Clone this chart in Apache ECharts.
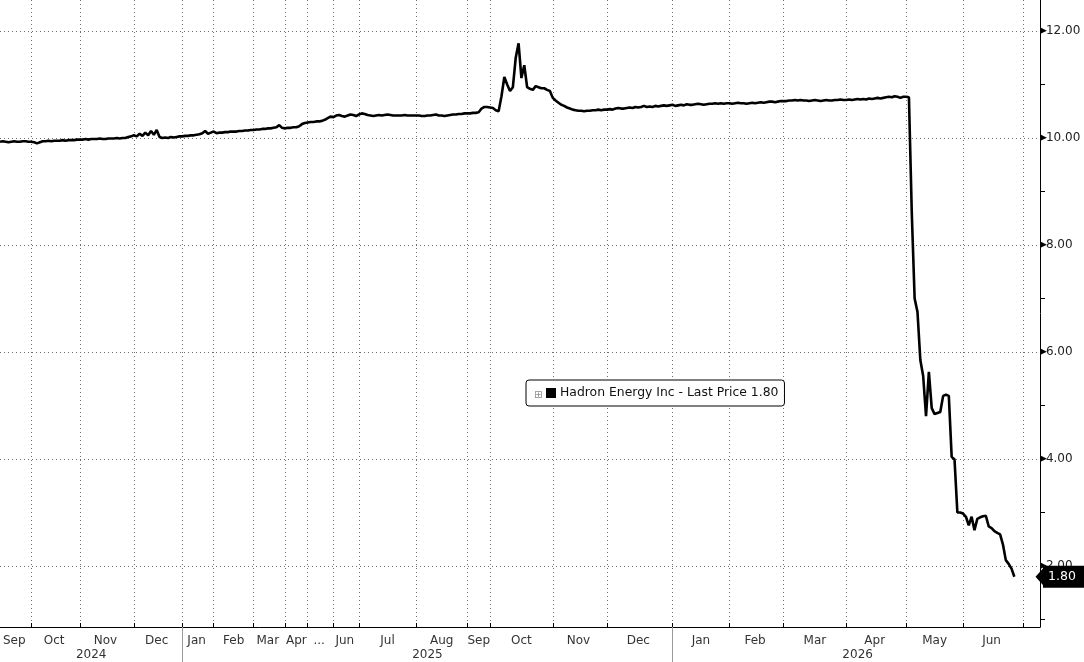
<!DOCTYPE html>
<html>
<head>
<meta charset="utf-8">
<script src="https://cdn.jsdelivr.net/npm/echarts@6/dist/echarts.min.js"></script>
<style>html,body{margin:0;padding:0;background:#fff}#c{width:1084px;height:662px}</style>
</head>
<body>
<div id="c"></div>
<script>
// ---- data ----
const months = ['2024-09','2024-10','2024-11','2024-12','2025-01','2025-02','2025-03','2025-04','2025-05','2025-06','2025-07','2025-08','2025-09','2025-10','2025-11','2025-12','2026-01','2026-02','2026-03','2026-04','2026-05','2026-06','2026-07'];
const monthLabels = ['Sep','Oct','Nov','Dec','Jan','Feb','Mar','Apr','...','Jun','Jul','Aug','Sep','Oct','Nov','Dec','Jan','Feb','Mar','Apr','May','Jun',''];
const yearLabels = ['2024','2025','2026'];
const seriesName = 'Hadron Energy Inc - Last Price 1.80';
const lastPrice = 1.80;
// daily last prices, one array per month of trading days
const priceSegments = [
  [9.93,9.94,9.93,9.92,9.93,9.94,9.93,9.93,9.94,9.94,9.93],
  [9.93,9.92,9.90,9.92,9.94,9.94,9.95,9.94,9.95,9.95,9.95,9.96,9.95,9.96,9.96,9.96,9.97],
  [9.97,9.97,9.98,9.97,9.98,9.98,9.98,9.99,9.98,9.98,9.99,9.99,9.99,10.0,9.99,10.0,10.0,10.02,10.03],
  [10.05,10.03,10.08,10.04,10.10,10.05,10.13,10.06,10.15,10.02,10.0,10.01,10.0,10.02,10.01,10.02,10.03],
  [10.03,10.04,10.04,10.05,10.05,10.06,10.07,10.09,10.13,10.08,10.10],
  [10.12,10.09,10.10,10.10,10.11,10.11,10.12,10.12,10.12,10.13,10.13,10.14,10.14,10.15],
  [10.15,10.16,10.16,10.17,10.17,10.18,10.18,10.19,10.20,10.24,10.19],
  [10.18,10.19,10.19,10.20,10.20,10.22,10.26,10.28],
  [10.29,10.30,10.30,10.31,10.31,10.32,10.34,10.37,10.40],
  [10.39,10.42,10.43,10.41,10.40,10.42,10.44,10.43,10.41],
  [10.44,10.46,10.45,10.43,10.42,10.41,10.42,10.43,10.42,10.43,10.44,10.43,10.42,10.42,10.42,10.42,10.43,10.42,10.42,10.42],
  [10.42,10.42,10.41,10.41,10.42,10.42,10.43,10.44,10.42,10.42,10.41,10.42,10.43,10.44,10.44,10.45,10.45,10.46],
  [10.46,10.46,10.47,10.47,10.48,10.55,10.58,10.58],
  [10.57,10.56,10.52,10.50,10.78,11.14,11.0,10.88,10.95,11.5,11.77,11.12,11.36,10.95,10.92,10.90,10.97,10.95,10.93,10.93,10.90,10.88],
  [10.75,10.70,10.66,10.62,10.60,10.57,10.55,10.53,10.52,10.51,10.51,10.50,10.51,10.51,10.52,10.52,10.53,10.52,10.53],
  [10.53,10.54,10.53,10.55,10.56,10.55,10.55,10.56,10.57,10.56,10.58,10.57,10.58,10.60,10.58,10.59,10.58,10.60,10.59,10.60,10.61,10.60,10.61],
  [10.62,10.60,10.61,10.62,10.61,10.63,10.62,10.62,10.63,10.64,10.63,10.62,10.63,10.64,10.64,10.65,10.64,10.65,10.64,10.65],
  [10.65,10.64,10.65,10.66,10.65,10.65,10.64,10.65,10.66,10.65,10.66,10.67,10.66,10.67,10.68,10.68,10.67,10.68,10.69],
  [10.69,10.69,10.70,10.70,10.71,10.70,10.71,10.70,10.70,10.69,10.70,10.71,10.70,10.69,10.70,10.71,10.70,10.70,10.71,10.71,10.72,10.71],
  [10.71,10.72,10.71,10.72,10.73,10.72,10.73,10.72,10.74,10.73,10.74,10.75,10.74,10.75,10.76,10.77,10.76,10.78,10.77,10.75,10.77],
  [10.77,10.76,8.6,7.0,6.75,5.85,5.55,4.8,5.63,4.95,4.84,4.86,4.88,5.18,5.2,5.18,4.04,3.99,3.0,3.0],
  [2.98,2.92,2.76,2.92,2.67,2.88,2.91,2.93,2.94,2.74,2.71,2.65,2.62,2.59,2.40,2.11,2.04,1.95,1.80,null,null],
  [null,null,null,null,null,null,null]
];
const yTicks = { min: 0, max: 14, interval: 2 };

// ---- build category table ----
const categories = [], prices = [];
const monthStart = new Set(), monthMid = {};
const yearRange = {};
let idx = 0;
months.forEach((m, i) => {
  const seg = priceSegments[i];
  if (i > 0) monthStart.add(idx);
  monthMid[idx + Math.floor(seg.length / 2)] = monthLabels[i];
  const y = m.slice(0, 4);
  if (!yearRange[y]) yearRange[y] = [idx, idx + seg.length];
  else yearRange[y][1] = idx + seg.length;
  seg.forEach((v, k) => { categories.push(m + '/' + (k + 1)); prices.push(v); });
  idx += seg.length;
});
const yearStart = new Set(), yearMid = {};
yearLabels.forEach((y, i) => {
  const r = yearRange[y];
  if (i > 0) yearStart.add(r[0]);
  yearMid[Math.floor((r[0] + r[1]) / 2)] = y;
});

const FONT = 'DejaVu Sans';
const dotted = { type: [1, 3], color: '#6e6e6e', width: 1 };

const chart = echarts.init(document.getElementById('c'), null, { renderer: 'canvas' });
chart.setOption({
  animation: false,
  backgroundColor: '#fff',
  textStyle: { fontFamily: FONT },
  title: {
    text: '\u229E', left: 529, top: 385,
    textStyle: { fontSize: 10, color: '#8a8a8a', fontWeight: 'normal', fontFamily: FONT }
  },
  legend: {
    data: [{ name: seriesName, icon: 'rect' }],
    left: 526, top: 380,
    orient: 'horizontal',
    itemWidth: 10, itemHeight: 10, itemGap: 4,
    padding: [7, 6, 7, 20],
    backgroundColor: '#fff',
    borderColor: '#000', borderWidth: 1, borderRadius: 3,
    textStyle: { fontFamily: FONT, fontSize: 12.4, color: '#111', padding: [0, 0, 0, -1] },
    selectedMode: false
  },
  grid: [
    { left: 0, right: 44, top: -76, bottom: -11, containLabel: false, outerBoundsMode: 'none' },
    { left: 0, right: 44, top: 0, bottom: 35, containLabel: false, outerBoundsMode: 'none' }
  ],
  xAxis: [
    { type: 'category', gridIndex: 0, data: categories, boundaryGap: false, show: false },
    {
      type: 'category', gridIndex: 1, data: categories, boundaryGap: false, position: 'bottom',
      axisLine: { show: true, lineStyle: { color: '#000', width: 1 } },
      axisTick: { show: true, inside: true, length: 4, interval: (i) => monthStart.has(i), lineStyle: { color: '#000' } },
      splitLine: { show: true, interval: (i) => monthStart.has(i), lineStyle: dotted },
      axisLabel: {
        interval: (i) => monthMid[i] !== undefined,
        formatter: (v, i) => monthMid[i] || '',
        margin: 8, fontFamily: FONT, fontSize: 12, color: '#333'
      }
    },
    {
      type: 'category', gridIndex: 1, data: categories, boundaryGap: false, position: 'bottom', offset: 0,
      axisLine: { show: false },
      axisTick: { show: true, inside: false, length: 35, interval: (i) => yearStart.has(i), lineStyle: { color: '#9a9a9a' } },
      splitLine: { show: false },
      axisLabel: {
        interval: (i) => yearMid[i] !== undefined,
        formatter: (v, i) => yearMid[i] || '',
        margin: 22, fontFamily: FONT, fontSize: 12, color: '#333'
      }
    }
  ],
  yAxis: [
    {
      type: 'value', gridIndex: 0, position: 'right',
      min: yTicks.min, max: yTicks.max, interval: yTicks.interval,
      axisLine: { show: false },
      axisTick: { show: false },
      minorTick: { show: true, splitNumber: 2, length: 5, lineStyle: { color: '#000' } },
      minorSplitLine: { show: false },
      splitLine: { show: true, lineStyle: dotted },
      axisLabel: {
        margin: 0, fontFamily: FONT, fontSize: 12, color: '#222',
        formatter: (v) => '{t|\u25B6}' + v.toFixed(2),
        rich: { t: { fontSize: 9, color: '#000', fontFamily: FONT, padding: [0, -1, 1, 0] } }
      }
    },
    {
      type: 'value', gridIndex: 1, position: 'right',
      axisLine: { show: true, lineStyle: { color: '#000', width: 1 } },
      axisTick: { show: false }, axisLabel: { show: false }, splitLine: { show: false }
    }
  ],
  series: [
    {
      name: seriesName, type: 'line', xAxisIndex: 0, yAxisIndex: 0,
      data: prices, showSymbol: false, symbol: 'none', clip: false,
      lineStyle: { color: '#000', width: 2.6 }, itemStyle: { color: '#000' },
      markLine: {
        silent: true, animation: false,
        symbol: ['none', 'triangle'], symbolSize: [20, 9], symbolRotate: 90, symbolOffset: [0, 0],
        lineStyle: { color: '#000', width: 0, opacity: 1, type: 'solid' },
        label: {
          show: true, position: 'end', distance: 3, opacity: 1,
          formatter: () => lastPrice.toFixed(2),
          backgroundColor: '#000', color: '#fff', fontFamily: FONT, fontSize: 12.5,
          padding: [5, 10, 4, 5]
        },
        data: [{ yAxis: lastPrice }]
      }
    }
  ]
});
</script>
</body>
</html>
